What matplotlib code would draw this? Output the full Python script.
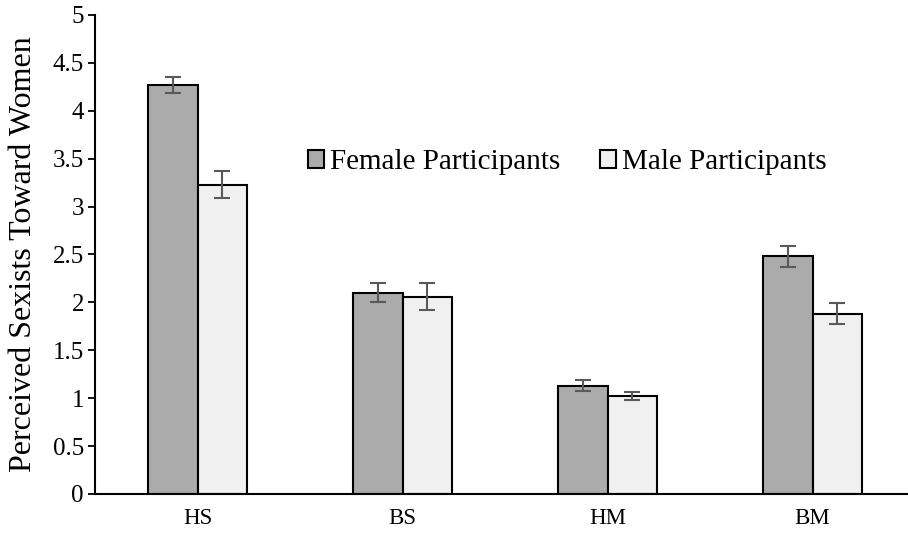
import numpy as np
import matplotlib
matplotlib.use("Agg")
import matplotlib.pyplot as plt

categories = ["HS", "BS", "HM", "BM"]
female_means = [4.27, 2.10, 1.13, 2.48]
female_err = [0.08, 0.10, 0.06, 0.11]
male_means = [3.23, 2.06, 1.02, 1.88]
male_err = [0.14, 0.14, 0.04, 0.11]
y_ticks = [0, 0.5, 1, 1.5, 2, 2.5, 3, 3.5, 4, 4.5, 5]
y_tick_labels = ["0", "0.5", "1", "1.5", "2", "2.5", "3", "3.5", "4", "4.5", "5"]

plt.rcParams["font.family"] = ["Liberation Serif", "DejaVu Serif"]

fig = plt.figure(figsize=(9.08, 5.38), dpi=100)
ax = fig.add_axes([95 / 908, 1 - 494 / 538, 820 / 908, 479 / 538])

x = np.arange(len(categories))
w = 0.24
err_kw = dict(ecolor="#595959", elinewidth=1.5, capsize=6, capthick=1.5)
ax.bar(x - w / 2, female_means, w, yerr=female_err, color="#ababab",
       edgecolor="black", linewidth=1.5, label="Female Participants",
       error_kw=err_kw, zorder=2)
ax.bar(x + w / 2, male_means, w, yerr=male_err, color="#f0f0f0",
       edgecolor="black", linewidth=1.5, label="Male Participants",
       error_kw=err_kw, zorder=2)

ax.set_xlim(-0.5, len(categories) - 0.5)
ax.set_ylim(0, 5)
ax.set_xticks(x)
ax.set_xticklabels(categories, fontsize=16.5)
ax.tick_params(axis="x", length=0, pad=10)
ax.set_yticks(y_ticks)
ax.set_yticklabels(y_tick_labels, fontsize=18)
ax.tick_params(axis="y", length=5, width=1.3, direction="out", pad=3)

for side in ["top", "right"]:
    ax.spines[side].set_visible(False)
ax.spines["left"].set_linewidth(1.5)
ax.spines["bottom"].set_linewidth(1.5)

ax.set_ylabel("Perceived Sexists Toward Women", fontsize=23)
ax.yaxis.set_label_coords(-0.070, 0.5)

leg = ax.legend(loc="center", bbox_to_anchor=(0.576, 0.693), ncol=2,
                frameon=False, fontsize=21, handlelength=0.55,
                handleheight=0.55, handletextpad=0.2, columnspacing=1.35,
                borderaxespad=0)

fig.savefig("out.png", dpi=100)
